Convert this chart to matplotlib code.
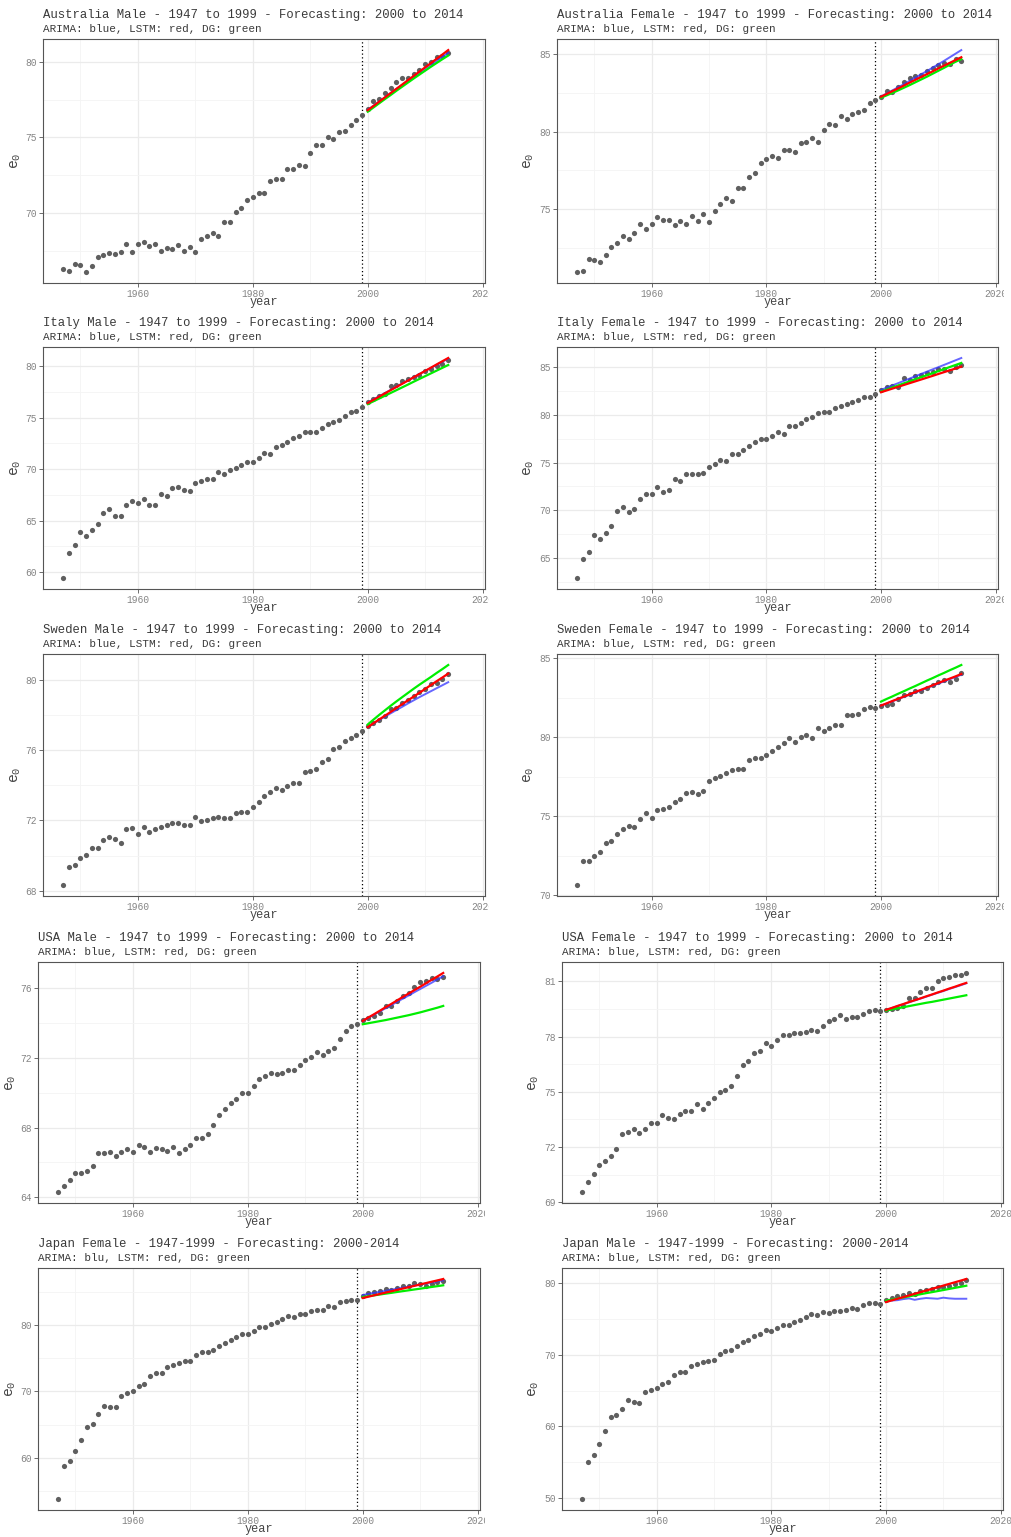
import numpy as np
import matplotlib.pyplot as plt
from matplotlib.ticker import MultipleLocator
from matplotlib.transforms import Bbox

plt.rcParams['font.family'] = ['Liberation Mono', 'DejaVu Sans Mono']

## Data ###################################################################
years = list(range(1947, 2015))
fc_years = list(range(2000, 2015))

aus_m_e0 = [66.29, 66.16, 66.64, 66.53, 66.09, 66.47, 67.07, 67.18, 67.36, 67.29,
            67.44, 67.96, 67.44, 67.96, 68.04, 67.82, 67.91, 67.49, 67.67, 67.58,
            67.84, 67.47, 67.76, 67.44, 68.24, 68.47, 68.69, 68.47, 69.38, 69.40,
            70.07, 70.33, 70.84, 71.07, 71.29, 71.31, 72.13, 72.24, 72.27, 72.89,
            72.91, 73.20, 73.11, 73.96, 74.49, 74.49, 75.04, 74.91, 75.38, 75.44,
            75.84, 76.16, 76.49, 76.91, 77.38, 77.51, 77.91, 78.24, 78.69, 78.91,
            78.93, 79.18, 79.47, 79.84, 79.96, 80.29, 80.40, 80.58]
aus_m_arima = [76.82, 77.10, 77.38, 77.66, 77.93, 78.21, 78.48, 78.75, 79.02, 79.29, 79.55, 79.81, 80.07, 80.33, 80.60]
aus_m_lstm = [76.80, 77.08, 77.37, 77.65, 77.94, 78.22, 78.50, 78.79, 79.07, 79.36, 79.64, 79.92, 80.21, 80.49, 80.78]
aus_m_dg = [76.70, 76.98, 77.26, 77.54, 77.81, 78.09, 78.36, 78.63, 78.90, 79.16, 79.42, 79.68, 79.93, 80.18, 80.42]

aus_f_e0 = [70.97, 71.01, 71.79, 71.75, 71.62, 72.07, 72.56, 72.80, 73.25, 73.06,
            73.47, 74.03, 73.75, 74.07, 74.53, 74.31, 74.31, 73.99, 74.25, 74.07,
            74.57, 74.25, 74.70, 74.20, 74.89, 75.32, 75.71, 75.50, 76.40, 76.40,
            77.05, 77.33, 78.00, 78.21, 78.43, 78.28, 78.81, 78.81, 78.66, 79.29,
            79.33, 79.59, 79.35, 80.13, 80.47, 80.45, 80.97, 80.82, 81.10, 81.25,
            81.36, 81.85, 82.05, 82.24, 82.61, 82.52, 82.87, 83.17, 83.47, 83.58,
            83.66, 83.88, 84.09, 84.29, 84.38, 84.35, 84.68, 84.55]
aus_f_arima = [82.26, 82.45, 82.65, 82.85, 83.05, 83.26, 83.47, 83.68, 83.89, 84.11, 84.33, 84.55, 84.78, 85.01, 85.24]
aus_f_lstm = [82.24, 82.42, 82.60, 82.78, 82.96, 83.15, 83.33, 83.51, 83.69, 83.87, 84.06, 84.24, 84.42, 84.60, 84.78]
aus_f_dg = [82.18, 82.33, 82.49, 82.65, 82.82, 82.99, 83.17, 83.35, 83.53, 83.72, 83.91, 84.10, 84.30, 84.49, 84.66]

ita_m_e0 = [59.42, 61.84, 62.62, 63.92, 63.50, 64.05, 64.69, 65.76, 66.08, 65.40,
            65.40, 66.47, 66.89, 66.67, 67.12, 66.54, 66.54, 67.57, 67.41, 68.16,
            68.22, 67.99, 67.86, 68.67, 68.87, 69.06, 69.06, 69.68, 69.51, 69.87,
            70.13, 70.42, 70.71, 70.65, 71.07, 71.59, 71.42, 72.14, 72.30, 72.62,
            73.01, 73.24, 73.59, 73.62, 73.56, 73.95, 74.37, 74.56, 74.76, 75.18,
            75.53, 75.63, 76.02, 76.54, 76.80, 77.09, 77.31, 78.09, 78.16, 78.54,
            78.77, 78.96, 79.16, 79.55, 79.71, 80.00, 80.19, 80.55]
ita_m_arima = [76.45, 76.76, 77.07, 77.38, 77.69, 78.00, 78.31, 78.61, 78.92, 79.22, 79.52, 79.82, 80.12, 80.42, 80.72]
ita_m_lstm = [76.41, 76.72, 77.03, 77.35, 77.66, 77.97, 78.28, 78.59, 78.91, 79.22, 79.53, 79.84, 80.16, 80.47, 80.78]
ita_m_dg = [76.31, 76.58, 76.85, 77.12, 77.39, 77.66, 77.93, 78.20, 78.48, 78.75, 79.02, 79.29, 79.56, 79.83, 80.10]

ita_f_e0 = [62.92, 64.93, 65.63, 67.43, 67.05, 67.67, 68.40, 69.90, 70.38, 69.83,
            70.10, 71.18, 71.67, 71.70, 72.47, 71.91, 72.08, 73.23, 73.06, 73.82,
            73.85, 73.75, 73.89, 74.55, 74.90, 75.24, 75.14, 75.94, 75.94, 76.28,
            76.74, 77.15, 77.50, 77.43, 77.78, 78.23, 77.99, 78.78, 78.85, 79.13,
            79.55, 79.76, 80.17, 80.28, 80.28, 80.66, 80.87, 81.08, 81.32, 81.56,
            81.81, 81.81, 82.22, 82.57, 82.88, 82.99, 82.92, 83.82, 83.68, 84.10,
            84.17, 84.34, 84.51, 84.79, 84.79, 84.55, 84.97, 85.17]
ita_f_arima = [82.60, 82.84, 83.08, 83.31, 83.55, 83.79, 84.03, 84.27, 84.51, 84.75, 84.98, 85.22, 85.46, 85.70, 85.94]
ita_f_lstm = [82.36, 82.55, 82.74, 82.93, 83.12, 83.31, 83.50, 83.69, 83.88, 84.07, 84.27, 84.46, 84.65, 84.84, 85.03]
ita_f_dg = [82.43, 82.64, 82.86, 83.07, 83.29, 83.50, 83.71, 83.93, 84.14, 84.35, 84.57, 84.78, 85.00, 85.21, 85.42]

swe_m_e0 = [68.32, 69.34, 69.46, 69.84, 70.04, 70.42, 70.42, 70.86, 71.05, 70.95,
            70.74, 71.52, 71.58, 71.24, 71.63, 71.35, 71.52, 71.61, 71.73, 71.84,
            71.86, 71.71, 71.71, 72.22, 71.96, 72.01, 72.14, 72.20, 72.16, 72.14,
            72.41, 72.47, 72.49, 72.77, 73.07, 73.41, 73.62, 73.85, 73.75, 73.98,
            74.15, 74.11, 74.76, 74.79, 74.95, 75.34, 75.48, 76.06, 76.16, 76.50,
            76.69, 76.84, 77.07, 77.37, 77.54, 77.71, 77.92, 78.35, 78.39, 78.67,
            78.88, 79.07, 79.34, 79.49, 79.79, 79.83, 80.06, 80.36]
swe_m_arima = [77.31, 77.52, 77.72, 77.91, 78.10, 78.29, 78.47, 78.66, 78.84, 79.02, 79.19, 79.36, 79.53, 79.70, 79.87]
swe_m_lstm = [77.31, 77.53, 77.75, 77.96, 78.18, 78.40, 78.62, 78.84, 79.05, 79.27, 79.49, 79.71, 79.93, 80.14, 80.36]
swe_m_dg = [77.46, 77.74, 78.01, 78.27, 78.53, 78.78, 79.02, 79.26, 79.50, 79.73, 79.95, 80.17, 80.40, 80.62, 80.85]

swe_f_e0 = [70.63, 72.15, 72.17, 72.44, 72.72, 73.29, 73.41, 73.88, 74.15, 74.40,
            74.28, 74.80, 75.18, 74.87, 75.37, 75.42, 75.60, 75.88, 76.09, 76.47,
            76.53, 76.38, 76.62, 77.21, 77.42, 77.54, 77.71, 77.90, 77.96, 77.96,
            78.57, 78.70, 78.70, 78.85, 79.12, 79.38, 79.63, 79.92, 79.69, 80.04,
            80.15, 79.94, 80.56, 80.40, 80.56, 80.79, 80.77, 81.38, 81.42, 81.50,
            81.80, 81.92, 81.86, 82.01, 82.05, 82.09, 82.41, 82.68, 82.77, 82.91,
            82.94, 83.10, 83.31, 83.50, 83.63, 83.53, 83.71, 84.05]
swe_f_arima = [82.00, 82.14, 82.28, 82.42, 82.56, 82.70, 82.84, 82.98, 83.12, 83.26, 83.40, 83.54, 83.68, 83.82, 83.96]
swe_f_lstm = [82.01, 82.15, 82.30, 82.44, 82.58, 82.72, 82.87, 83.01, 83.15, 83.29, 83.44, 83.58, 83.72, 83.86, 84.01]
swe_f_dg = [82.26, 82.43, 82.59, 82.76, 82.92, 83.09, 83.25, 83.42, 83.59, 83.75, 83.92, 84.08, 84.25, 84.41, 84.58]

usa_m_e0 = [64.30, 64.65, 65.01, 65.39, 65.39, 65.52, 65.77, 66.55, 66.55, 66.59,
            66.34, 66.59, 66.74, 66.59, 67.01, 66.86, 66.61, 66.80, 66.78, 66.67,
            66.91, 66.53, 66.76, 67.01, 67.37, 67.39, 67.60, 68.17, 68.70, 69.07,
            69.41, 69.62, 70.00, 69.98, 70.40, 70.80, 70.97, 71.10, 71.07, 71.12,
            71.30, 71.30, 71.58, 71.85, 72.04, 72.30, 72.15, 72.38, 72.57, 73.07,
            73.54, 73.81, 73.92, 74.15, 74.29, 74.38, 74.55, 74.97, 74.97, 75.26,
            75.56, 75.71, 76.08, 76.34, 76.42, 76.55, 76.53, 76.63]
usa_m_arima = [74.11, 74.29, 74.47, 74.66, 74.84, 75.02, 75.21, 75.39, 75.57, 75.76, 75.94, 76.12, 76.30, 76.49, 76.67]
usa_m_lstm = [74.11, 74.31, 74.50, 74.70, 74.90, 75.09, 75.29, 75.49, 75.68, 75.88, 76.07, 76.27, 76.47, 76.66, 76.86]
usa_m_dg = [73.92, 73.98, 74.04, 74.10, 74.16, 74.23, 74.30, 74.37, 74.44, 74.52, 74.60, 74.69, 74.78, 74.87, 74.97]

usa_f_e0 = [69.56, 70.08, 70.53, 71.02, 71.23, 71.50, 71.92, 72.71, 72.80, 72.96,
            72.75, 73.00, 73.32, 73.31, 73.72, 73.59, 73.50, 73.81, 73.94, 73.97,
            74.35, 74.08, 74.41, 74.66, 74.98, 75.11, 75.32, 75.86, 76.46, 76.68,
            77.09, 77.23, 77.67, 77.47, 77.81, 78.08, 78.08, 78.17, 78.17, 78.26,
            78.37, 78.32, 78.55, 78.86, 78.96, 79.18, 78.95, 79.05, 79.07, 79.22,
            79.38, 79.43, 79.36, 79.45, 79.50, 79.55, 79.65, 80.10, 80.10, 80.41,
            80.64, 80.66, 81.02, 81.20, 81.22, 81.34, 81.36, 81.45]
usa_f_arima = [79.44, 79.54, 79.65, 79.75, 79.85, 79.96, 80.06, 80.16, 80.27, 80.37, 80.47, 80.58, 80.68, 80.78, 80.89]
usa_f_lstm = [79.45, 79.55, 79.66, 79.76, 79.87, 79.97, 80.07, 80.18, 80.28, 80.39, 80.49, 80.60, 80.70, 80.81, 80.91]
usa_f_dg = [79.41, 79.47, 79.53, 79.59, 79.65, 79.71, 79.77, 79.83, 79.88, 79.94, 80.00, 80.06, 80.12, 80.18, 80.24]

jpn_f_e0 = [53.75, 58.69, 59.50, 60.96, 62.67, 64.68, 65.09, 66.65, 67.81, 67.71,
            67.66, 69.32, 69.77, 70.13, 70.88, 71.13, 72.29, 72.75, 72.85, 73.65,
            74.01, 74.26, 74.61, 74.66, 75.47, 75.92, 75.97, 76.32, 76.88, 77.28,
            77.83, 78.24, 78.74, 78.74, 79.19, 79.70, 79.80, 80.25, 80.55, 80.96,
            81.41, 81.31, 81.76, 81.76, 82.12, 82.27, 82.37, 82.87, 82.72, 83.48,
            83.68, 83.88, 83.88, 84.48, 84.84, 85.09, 85.24, 85.49, 85.39, 85.64,
            85.89, 85.99, 86.35, 86.25, 85.99, 86.30, 86.50, 86.75]
jpn_f_arima = [84.58, 84.74, 84.90, 85.06, 85.21, 85.37, 85.53, 85.69, 85.85, 86.01, 86.17, 86.32, 86.48, 86.64, 86.80]
jpn_f_lstm = [84.13, 84.33, 84.54, 84.74, 84.95, 85.15, 85.36, 85.56, 85.77, 85.97, 86.18, 86.38, 86.59, 86.79, 87.00]
jpn_f_dg = [84.28, 84.41, 84.53, 84.66, 84.79, 84.91, 85.04, 85.17, 85.29, 85.42, 85.54, 85.67, 85.80, 85.92, 86.05]

jpn_m_e0 = [49.86, 55.08, 56.01, 57.60, 59.32, 61.28, 61.56, 62.49, 63.65, 63.47,
            63.28, 64.77, 65.10, 65.33, 65.89, 66.17, 67.19, 67.66, 67.66, 68.45,
            68.78, 69.01, 69.19, 69.33, 70.13, 70.50, 70.73, 71.24, 71.76, 72.13,
            72.64, 72.97, 73.43, 73.34, 73.81, 74.22, 74.18, 74.60, 74.88, 75.25,
            75.67, 75.58, 75.95, 75.90, 76.13, 76.13, 76.23, 76.55, 76.37, 77.02,
            77.25, 77.21, 77.16, 77.67, 78.00, 78.28, 78.32, 78.60, 78.56, 78.93,
            79.07, 79.21, 79.49, 79.53, 79.67, 79.91, 80.09, 80.51]
jpn_m_arima = [77.55, 77.60, 77.65, 77.80, 77.90, 77.70, 77.85, 77.95, 77.90, 77.85, 78.00, 77.90, 77.85, 77.85, 77.85]
jpn_m_lstm = [77.39, 77.62, 77.85, 78.08, 78.31, 78.54, 78.77, 79.00, 79.23, 79.46, 79.69, 79.92, 80.15, 80.38, 80.61]
jpn_m_dg = [77.58, 77.73, 77.88, 78.03, 78.18, 78.33, 78.48, 78.63, 78.77, 78.92, 79.07, 79.22, 79.37, 79.52, 79.67]

titles = ["Australia Male - 1947 to 1999 - Forecasting: 2000 to 2014",
          "Australia Female - 1947 to 1999 - Forecasting: 2000 to 2014",
          "Italy Male - 1947 to 1999 - Forecasting: 2000 to 2014",
          "Italy Female - 1947 to 1999 - Forecasting: 2000 to 2014",
          "Sweden Male - 1947 to 1999 - Forecasting: 2000 to 2014",
          "Sweden Female - 1947 to 1999 - Forecasting: 2000 to 2014",
          "USA Male - 1947 to 1999 - Forecasting: 2000 to 2014",
          "USA Female - 1947 to 1999 - Forecasting: 2000 to 2014",
          "Japan Female - 1947-1999 - Forecasting: 2000-2014",
          "Japan Male - 1947-1999 - Forecasting: 2000-2014"]
subtitles = ["ARIMA: blue, LSTM: red, DG: green"] * 8 + \
            ["ARIMA: blu, LSTM: red, DG: green", "ARIMA: blue, LSTM: red, DG: green"]
ytick_steps = [5, 5, 5, 5, 4, 5, 4, 3, 10, 10]

series = [(aus_m_e0, aus_m_arima, aus_m_lstm, aus_m_dg),
          (aus_f_e0, aus_f_arima, aus_f_lstm, aus_f_dg),
          (ita_m_e0, ita_m_arima, ita_m_lstm, ita_m_dg),
          (ita_f_e0, ita_f_arima, ita_f_lstm, ita_f_dg),
          (swe_m_e0, swe_m_arima, swe_m_lstm, swe_m_dg),
          (swe_f_e0, swe_f_arima, swe_f_lstm, swe_f_dg),
          (usa_m_e0, usa_m_arima, usa_m_lstm, usa_m_dg),
          (usa_f_e0, usa_f_arima, usa_f_lstm, usa_f_dg),
          (jpn_f_e0, jpn_f_arima, jpn_f_lstm, jpn_f_dg),
          (jpn_m_e0, jpn_m_arima, jpn_m_lstm, jpn_m_dg)]

## Layout (pixels) ########################################################
W, H = 1011, 1537
rows_y = [(39, 283), (347, 589), (654, 896), (962, 1203), (1268, 1510)]
cols_top = [(43, 485, 16, 489), (557, 998, 529, 1004)]      # left, right, ylabel x, clip x
cols_bottom = [(38, 480, 11, 485), (562, 1003, 534, 1011)]

fig = plt.figure(figsize=(W / 100, H / 100), dpi=100)

for i, (e0, arima, lstm, dg) in enumerate(series):
    row, col = i // 2, i % 2
    top, bot = rows_y[row]
    left, right, ylab_x, clip_x = (cols_top if row < 3 else cols_bottom)[col]
    ax = fig.add_axes([left / W, 1 - bot / H, (right - left) / W, (bot - top) / H])

    ax.scatter(years, e0, s=14, color='#5f5f5f', linewidths=0, zorder=3)
    ax.axvline(1999, color='black', ls=(0, (1, 2)), lw=0.9, zorder=2)
    ax.plot(fc_years, arima, color='#3333ff', alpha=0.75, lw=1.4, zorder=4)
    ax.plot(fc_years, dg, color='#00ee00', lw=1.6, zorder=5)
    ax.plot(fc_years, lstm, color='#ff0000', lw=1.6, zorder=6)

    ax.set_xlim(1943.5, 2020.4)
    ax.margins(y=0.05)
    ax.xaxis.set_major_locator(MultipleLocator(20))
    ax.xaxis.set_minor_locator(MultipleLocator(10))
    ax.yaxis.set_major_locator(MultipleLocator(ytick_steps[i]))
    ax.yaxis.set_minor_locator(MultipleLocator(ytick_steps[i] / 2))

    ax.grid(which='major', color='#ebebeb', lw=0.9, zorder=0)
    ax.grid(which='minor', color='#f4f4f4', lw=0.6, zorder=0)
    ax.set_axisbelow(True)
    for sp in ax.spines.values():
        sp.set_color('#555555')
        sp.set_linewidth(0.8)
    ax.tick_params(which='major', length=2.75, width=0.5, color='#333333',
                   labelsize=6.9, labelcolor='#858585', pad=1.5)
    ax.tick_params(which='minor', length=0)

    # the right-most year label is cut off at the image edge
    for lab in ax.get_xticklabels():
        lab.set_clip_box(Bbox.from_extents(0, 0, clip_x, H))
        lab.set_clip_on(True)

    fig.text(left / W, 1 - (top - 24) / H, titles[i], fontsize=8.8,
             color='#3a3a3a', ha='left', va='center')
    fig.text(left / W, 1 - (top - 10) / H, subtitles[i], fontsize=7.9,
             color='#3a3a3a', ha='left', va='center')
    fig.text((left + right) / 2 / W, 1 - (bot + 19) / H, 'year', fontsize=8.6,
             color='#444444', ha='center', va='center')
    fig.text(ylab_x / W, 1 - (top + bot) / 2 / H, r'$\mathregular{e_0}$',
             fontsize=10.5, color='#444444', rotation=90, ha='center', va='center')

fig.savefig('out.png', dpi=100, facecolor='white')
